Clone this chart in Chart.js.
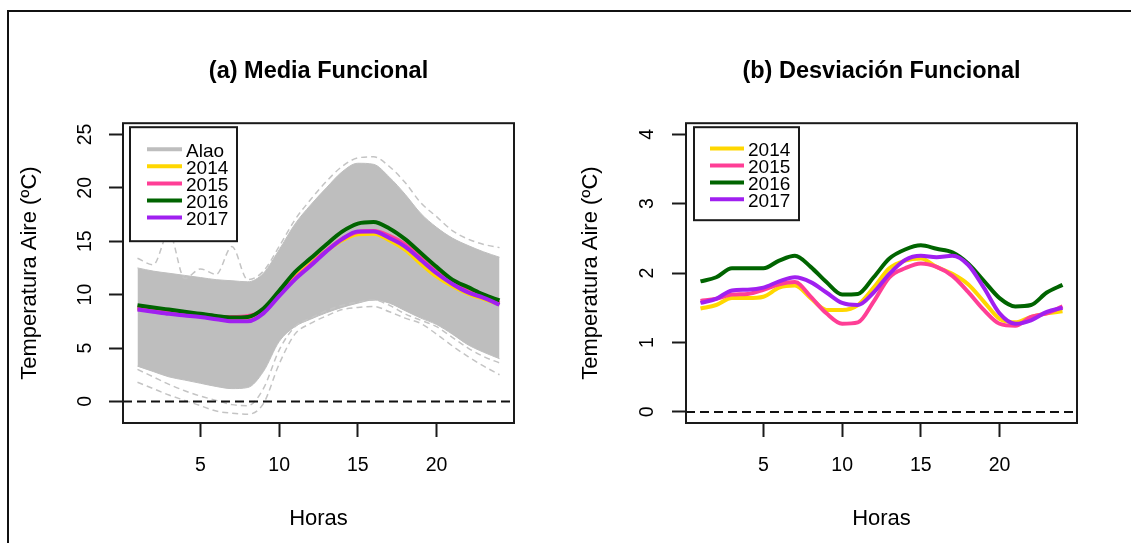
<!DOCTYPE html>
<html>
<head>
<meta charset="utf-8">
<script src="https://cdn.jsdelivr.net/npm/chart.js@4.4.0/dist/chart.umd.min.js"></script>
<style>
  html, body { margin: 0; padding: 0; background: #fff; overflow: hidden; }
  body { width: 1131px; height: 543px; position: relative; }
  #frame { position: absolute; left: 7px; top: 10px; width: 1200px; height: 600px;
           border-left: 2px solid #111; border-top: 2px solid #111; }
  #mean-wrap { position: absolute; left: 0; top: 0; width: 563px; height: 543px; }
  #sd-wrap { position: absolute; left: 563px; top: 0; width: 568px; height: 543px; }
</style>
</head>
<body>
<div id="frame"></div>
<div id="mean-wrap"><canvas id="meanChart" width="563" height="543"></canvas></div>
<div id="sd-wrap"><canvas id="sdChart" width="568" height="543"></canvas></div>
<script>
// datos
const hours = [1, 2, 3, 4, 5, 6, 7, 8, 9, 10, 11, 12, 13, 14, 15, 16, 17, 18, 19, 20, 21, 22, 23, 24];
const xTicks = [5, 10, 15, 20];
const meanTicks = [0, 5, 10, 15, 20, 25];
const sdTicks = [0, 1, 2, 3, 4];
const years = ["2014", "2015", "2016", "2017"];
const yearColors = ["#FFD700", "#FF3E96", "#006400", "#A020F0"];

// (a) banda gris de las curvas diarias de Alao
const alaoUpper = [12.5, 12.2, 12.0, 11.8, 11.6, 11.4, 11.3, 11.2, 12.0, 14.2, 16.6, 18.4, 20.0, 21.5, 22.3, 22.2, 21.0, 19.4, 17.6, 16.3, 15.3, 14.6, 14.0, 13.5];
const alaoLower = [3.3, 2.8, 2.3, 2.0, 1.7, 1.4, 1.2, 1.3, 2.8, 5.6, 7.0, 7.7, 8.3, 8.8, 9.2, 9.5, 9.2, 8.5, 7.8, 7.2, 6.3, 5.3, 4.6, 4.0];
const alaoHigh = [13.4, 12.8, 15.8, 11.5, 12.4, 11.9, 14.5, 11.4, 12.2, 14.5, 17.0, 18.9, 20.6, 22.0, 22.8, 22.9, 22.0, 20.5, 18.6, 17.3, 16.0, 15.2, 14.7, 14.4];
const alaoLow1 = [1.8, 1.2, 0.6, 0.1, -0.4, -0.9, -1.1, -1.2, -0.2, 3.5, 6.3, 7.3, 8.0, 8.6, 8.8, 8.9, 8.4, 7.8, 7.3, 6.3, 5.2, 4.2, 3.3, 2.5];
const alaoLow2 = [3.0, 2.3, 1.6, 1.0, 0.5, 0.1, -0.3, -0.4, 1.2, 4.8, 7.0, 7.8, 8.5, 9.0, 9.3, 9.5, 9.0, 8.2, 7.6, 7.0, 6.0, 5.0, 4.2, 3.6];

// (a) media funcional por año
const mean2014 = [8.7, 8.5, 8.3, 8.15, 8.0, 7.8, 7.65, 7.7, 8.4, 10.0, 11.6, 12.9, 14.1, 15.1, 15.65, 15.7, 15.1, 14.2, 12.9, 11.7, 10.8, 10.1, 9.6, 9.1];
const mean2015 = [8.8, 8.6, 8.4, 8.2, 8.05, 7.9, 7.9, 8.0, 8.5, 10.0, 11.5, 12.8, 14.1, 15.2, 15.85, 15.95, 15.5, 14.7, 13.4, 12.1, 11.1, 10.3, 9.75, 9.2];
const mean2016 = [9.0, 8.8, 8.6, 8.4, 8.2, 8.0, 7.85, 7.9, 8.7, 10.35, 12.1, 13.4, 14.7, 15.9, 16.65, 16.8, 16.2, 15.2, 13.9, 12.6, 11.4, 10.7, 10.0, 9.45];
const mean2017 = [8.6, 8.4, 8.2, 8.05, 7.9, 7.7, 7.5, 7.5, 8.25, 9.85, 11.4, 12.7, 14.05, 15.2, 15.9, 15.9, 15.3, 14.5, 13.25, 12.0, 11.0, 10.2, 9.7, 9.05];

// (b) desviacion funcional por año
const sd2014 = [1.49, 1.54, 1.64, 1.64, 1.66, 1.79, 1.82, 1.64, 1.47, 1.47, 1.54, 1.79, 2.07, 2.18, 2.21, 2.09, 1.99, 1.84, 1.59, 1.34, 1.29, 1.37, 1.42, 1.45];
const sd2015 = [1.60, 1.63, 1.69, 1.70, 1.76, 1.84, 1.87, 1.66, 1.42, 1.27, 1.29, 1.59, 1.94, 2.07, 2.14, 2.09, 1.96, 1.73, 1.47, 1.27, 1.24, 1.37, 1.42, 1.52];
const sd2016 = [1.88, 1.94, 2.07, 2.07, 2.07, 2.18, 2.25, 2.09, 1.87, 1.69, 1.70, 1.94, 2.21, 2.34, 2.40, 2.35, 2.30, 2.14, 1.89, 1.64, 1.52, 1.54, 1.72, 1.83];
const sd2017 = [1.57, 1.63, 1.75, 1.76, 1.79, 1.88, 1.94, 1.87, 1.72, 1.57, 1.54, 1.72, 1.99, 2.19, 2.25, 2.23, 2.25, 2.12, 1.79, 1.42, 1.27, 1.32, 1.44, 1.50];

const refValue = 0;
const xRange = [0.08, 24.92];
const meanRange = [-2.02, 26.05];
const sdRange = [-0.16, 4.16];

const fontFamily = "'Liberation Sans', Arial, sans-serif";
Chart.defaults.font.family = fontFamily;
Chart.defaults.color = "#000";

const toPoints = (vals) => vals.map((v, i) => ({ x: hours[i], y: v }));

function yearSeries(list) {
  return list.map((vals, i) => ({
    label: years[i],
    data: toPoints(vals),
    borderColor: yearColors[i],
    borderWidth: 4,
    pointRadius: 0,
    fill: false,
    cubicInterpolationMode: "monotone",
    order: 4 - i,
  }));
}

function graySeries(vals, dash, width) {
  return {
    label: "",
    data: toPoints(vals),
    borderColor: "#c4c4c4",
    borderWidth: width,
    borderDash: dash,
    pointRadius: 0,
    fill: false,
    cubicInterpolationMode: "monotone",
    order: 8,
  };
}

// recuadro del panel
const plotBox = {
  id: "plotBox",
  afterDraw(chart) {
    const { ctx, chartArea: a } = chart;
    ctx.save();
    ctx.lineWidth = 2;
    ctx.strokeStyle = "#1a1a1a";
    ctx.strokeRect(a.left, a.top, a.right - a.left, a.bottom - a.top);
    ctx.restore();
  },
};

// linea discontinua en cero
const refLine = {
  id: "refLine",
  afterDatasetsDraw(chart) {
    const { ctx, chartArea: a, scales } = chart;
    const y = scales.y.getPixelForValue(refValue);
    ctx.save();
    ctx.lineWidth = 2;
    ctx.strokeStyle = "#111";
    ctx.setLineDash([9, 5]);
    ctx.beginPath();
    ctx.moveTo(a.left, y);
    ctx.lineTo(a.right - 4, y);
    ctx.stroke();
    ctx.restore();
  },
};

// leyenda tipo R dentro del panel
const rLegend = {
  id: "rLegend",
  afterDatasetsDraw(chart, args, o) {
    if (!o.labels) return;
    const { ctx, chartArea: a } = chart;
    const bx = a.left + o.dx;
    const by = a.top + o.dy;
    ctx.save();
    ctx.fillStyle = "#fff";
    ctx.fillRect(bx, by, o.w, o.h);
    ctx.lineWidth = 2;
    ctx.strokeStyle = "#1a1a1a";
    ctx.strokeRect(bx, by, o.w, o.h);
    ctx.font = o.fontSize + "px " + fontFamily;
    ctx.textBaseline = "middle";
    o.labels.forEach((lab, i) => {
      const y = by + o.firstRow + i * o.rowGap;
      ctx.strokeStyle = o.colors[i];
      ctx.lineWidth = 4;
      ctx.beginPath();
      ctx.moveTo(bx + o.lineX, y);
      ctx.lineTo(bx + o.lineX + o.lineLen, y);
      ctx.stroke();
      ctx.fillStyle = "#000";
      ctx.fillText(lab, bx + o.textX, y + 2.5);
    });
    ctx.restore();
  },
};

function panelOptions(p) {
  return {
    responsive: false,
    animation: false,
    events: [],
    layout: { padding: { left: 0, right: p.padRight, top: 0, bottom: 0 } },
    scales: {
      x: {
        type: "linear",
        min: xRange[0],
        max: xRange[1],
        afterBuildTicks: (s) => { s.ticks = xTicks.map((v) => ({ value: v })); },
        afterFit: (s) => { s.height = 120; },
        ticks: { font: { size: 19.5 }, padding: 17, maxRotation: 0, autoSkip: false },
        grid: { drawOnChartArea: false, drawTicks: true, tickLength: 14, tickWidth: 2, tickColor: "#1a1a1a" },
        border: { display: false },
        title: { display: true, text: "Horas", font: { size: 22 }, padding: { top: 0, bottom: 11 } },
      },
      y: {
        type: "linear",
        min: p.yRange[0],
        max: p.yRange[1],
        afterBuildTicks: (s) => { s.ticks = p.yTicks.map((v) => ({ value: v })); },
        afterFit: (s) => { s.width = 123; },
        ticks: { font: { size: 19.5 }, padding: p.yTickPad, minRotation: 90, maxRotation: 90, crossAlign: "center", autoSkip: false },
        grid: { drawOnChartArea: false, drawTicks: true, tickLength: 14, tickWidth: 2, tickColor: "#1a1a1a" },
        border: { display: false },
        title: { display: true, text: "Temperatura Aire (ºC)", font: { size: 22 }, padding: { top: p.yTitlePad, bottom: 0 } },
      },
    },
    plugins: {
      legend: { display: false },
      tooltip: { enabled: false },
      title: {
        display: true,
        text: p.title,
        fullSize: false,
        font: { size: 23.5, weight: "bold" },
        padding: { top: 57, bottom: 38 },
      },
      rLegend: p.legend,
    },
  };
}

new Chart(document.getElementById("meanChart"), {
  type: "line",
  data: {
    datasets: [
      Object.assign(graySeries(alaoUpper, [], 1), { fill: "+1", backgroundColor: "#bebebe", borderColor: "#bebebe", order: 9 }),
      Object.assign(graySeries(alaoLower, [], 1), { borderColor: "#bebebe", order: 9 }),
      graySeries(alaoHigh, [6, 4], 1.5),
      graySeries(alaoLow1, [6, 4], 1.5),
      graySeries(alaoLow2, [6, 4], 1.5),
      ...yearSeries([mean2014, mean2015, mean2016, mean2017]),
    ],
  },
  options: panelOptions({
    title: "(a) Media Funcional",
    padRight: 49,
    yRange: meanRange,
    yTicks: meanTicks,
    yTickPad: 13,
    yTitlePad: 17,
    legend: {
      labels: ["Alao"].concat(years),
      colors: ["#bebebe"].concat(yearColors),
      dx: 7, dy: 4, w: 107, h: 114,
      lineX: 17, lineLen: 35, textX: 56,
      firstRow: 22, rowGap: 17.1, fontSize: 19,
    },
  }),
  plugins: [plotBox, refLine, rLegend],
});

new Chart(document.getElementById("sdChart"), {
  type: "line",
  data: {
    datasets: yearSeries([sd2014, sd2015, sd2016, sd2017]),
  },
  options: panelOptions({
    title: "(b) Desviación Funcional",
    padRight: 54,
    yRange: sdRange,
    yTicks: sdTicks,
    yTickPad: 19,
    yTitlePad: 15,
    legend: {
      labels: years,
      colors: yearColors,
      dx: 8, dy: 4, w: 105, h: 93,
      lineX: 16, lineLen: 34, textX: 54,
      firstRow: 21.4, rowGap: 16.9, fontSize: 19,
    },
  }),
  plugins: [plotBox, refLine, rLegend],
});
</script>
</body>
</html>
